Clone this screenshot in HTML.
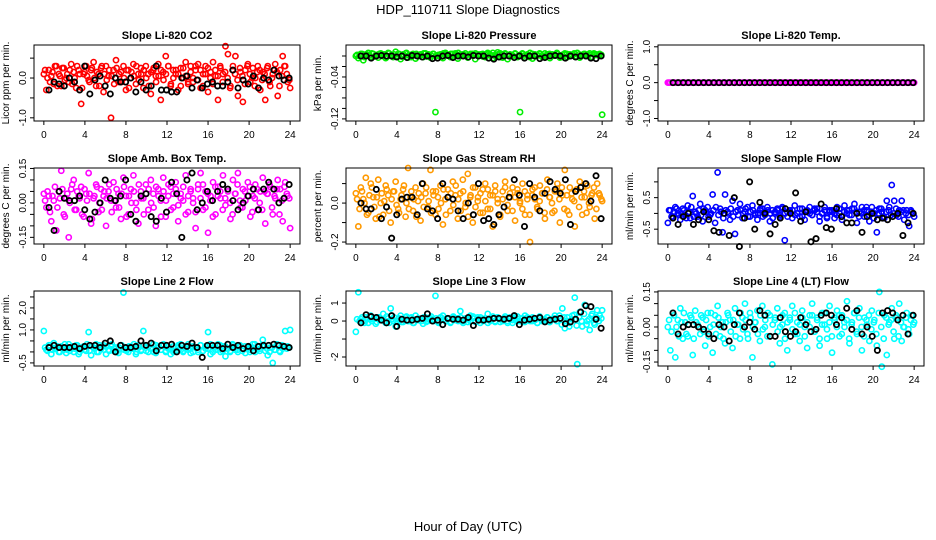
<!DOCTYPE html>
<html><head><meta charset="utf-8"><style>
html,body{margin:0;padding:0;background:#fff;}
svg{display:block;font-family:"Liberation Sans",Arial,sans-serif;}
</style></head><body>
<svg id="chart" width="936" height="540" viewBox="0 0 936 540">
<text x="468" y="14" text-anchor="middle" font-size="13">HDP_110711  Slope Diagnostics</text>
<text x="468" y="531" text-anchor="middle" font-size="13">Hour of Day (UTC)</text>
<g id="panels"></g>
</svg>
<script>
const xTicks=[0,4,8,12,16,20,24];
const titles=["Slope Li-820 CO2","Slope Li-820 Pressure","Slope Li-820 Temp.","Slope Amb. Box Temp.","Slope Gas Stream RH","Slope Sample Flow","Slope Line 2 Flow","Slope Line 3 Flow","Slope Line 4 (LT) Flow"];
const yTitles=["Licor ppm per min.","kPa per min.","degrees C per min.","degrees C per min.","percent per min.","ml/min per min.","ml/min per min.","ml/min per min.","ml/min per min."];
const yTickVals=[[-1,-0.5,0,0.5],[-0.12,-0.1,-0.08,-0.06,-0.04,-0.02,0],[-1,-0.5,0,0.5,1],[-0.15,-0.1,-0.05,0,0.05,0.1,0.15],[-0.2,-0.1,0,0.1],[-0.5,0,0.5,1],[-0.5,0,0.5,1,1.5,2,2.5],[-2,-1,0,1],[-0.15,-0.1,-0.05,0,0.05,0.1,0.15]];
const yTickLabels=[["-1.0","","0.0",""],["-0.12","","","","-0.04","",""],["-1.0","","0.0","","1.0"],["-0.15","","","0.00","","","0.15"],["-0.2","","0.0",""],["-0.5","","0.5",""],["-0.5","","","1.0","","2.0",""],["-2","","0","1"],["-0.15","","","0.00","","","0.15"]];
const yDomains=[[-1.08,0.83],[-0.124,0.021],[-1.07,1.05],[-0.179,0.152],[-0.21,0.18],[-0.97,1.44],[-0.64,2.77],[-2.5,1.67],[-0.167,0.154]];
const colors=["#ff0000","#00ee00","#ff00ff","#ff00ff","#ff9900","#0000ff","#00ffff","#00ffff","#00ffff"];

const co2=[0.1,-0.3,0.2,0.05,-0.15,0.3,0.1,-0.2,0.25,0.0,-0.1,0.35,0.15,-0.25,0.2,-0.65,0.1,0.3,-0.05,0.2,0.4,-0.2,0.1,0.25,-0.35,0.3,0.05,-1.0,0.2,0.45,-0.1,0.15,0.3,-0.3,0.2,0.0,0.35,-0.15,0.1,0.25,-0.25,0.3,0.1,-0.4,0.2,0.05,0.35,-0.55,0.15,0.55,0.3,-0.2,0.2,0.1,-0.3,0.25,0.0,0.4,-0.15,0.3,-0.1,0.2,0.35,-0.25,0.1,0.3,-0.35,0.15,0.4,0.05,-0.55,0.25,0.1,0.8,0.6,-0.2,0.3,0.55,-0.45,0.15,-0.6,0.2,0.35,-0.1,0.25,0.0,0.3,-0.3,0.15,-0.55,0.3,-0.2,0.1,0.35,-0.45,0.2,0.55,0.3,-0.1,-0.25];
const co2b=[0.2,0.0,-0.1,0.15,0.3,-0.2,0.05,0.25,-0.05,0.1,0.2,-0.15,0.0,0.3,0.1,-0.25,0.15,0.05,-0.1,0.25,0.0,0.15,-0.2,0.3,0.1,-0.05,0.2,0.05,-0.15,0.25,0.1,-0.1,0.0,0.2,-0.25,0.15,0.05,0.3,-0.05,0.1,0.2,0.0,-0.2,0.15,0.25,-0.1,0.05,0.2,-0.05,0.1,0.3,-0.15,0.0,0.2,0.1,-0.2,0.25,0.05,-0.1,0.15,0.0,0.3,-0.05,0.2,-0.2,0.1,0.25,0.0,-0.15,0.2,0.05,0.3,-0.1,0.15,0.0,-0.25,0.2,0.1,-0.05,0.25,0.05,-0.15,0.3,0.1,0.0,-0.2,0.15,0.2,-0.05,0.1,0.25,-0.1,0.0,0.2,0.15,-0.2,0.05,0.3,0.1,-0.05];
const co2Ref=[-0.3,-0.1,-0.15,-0.2,0.0,-0.1,-0.3,0.3,-0.4,-0.05,0.05,-0.2,-0.4,0.0,-0.1,-0.1,0.0,-0.35,-0.1,-0.3,-0.2,0.3,-0.3,-0.3,-0.35,-0.35,0.0,0.05,-0.25,-0.05,-0.25,-0.15,-0.1,-0.2,-0.2,-0.1,0.2,-0.25,-0.05,-0.15,0.05,-0.25,0.0,-0.05,0.2,0.05,-0.05,0.0];
const pres=[0.0,-0.004,0.004,-0.008,0.003,0.006,-0.002,0.004,0.001,-0.003,0.005,0.002,-0.004,0.006,0.001,-0.002,0.008,0.004,-0.006,0.003,0.005,-0.003,0.002,0.004,-0.005,0.001,0.003,-0.002,0.005,0.002,-0.003,0.004,-0.107,0.001,0.003,-0.004,0.006,0.002,-0.002,0.004,0.005,-0.005,0.003,0.001,0.005,-0.003,0.002,0.004,-0.006,0.003,0.001,0.004,-0.002,0.006,0.003,-0.004,0.002,0.007,0.005,-0.003,0.004,-0.006,0.002,0.001,0.005,-0.002,-0.107,0.004,-0.003,0.002,0.006,-0.005,0.003,0.001,0.004,-0.002,0.005,0.002,-0.004,0.003,0.001,0.004,-0.003,0.002,0.005,-0.002,0.003,0.001,0.004,0.006,-0.003,0.002,0.004,0.001,0.005,-0.002,0.003,0.002,0.004,-0.112];
const presb=[0.002,0.0,0.004,-0.002,0.003,0.001,0.005,-0.001,0.002,0.004,0.0,0.003,-0.002,0.005,0.001,0.003,0.0,0.004,-0.001,0.002,0.006,0.001,-0.002,0.003,0.004,0.0,0.002,0.005,-0.001,0.003,0.001,0.004,0.0,0.002,-0.002,0.005,0.003,0.001,0.004,-0.001,0.002,0.006,0.0,0.003,0.001,-0.002,0.004,0.002,0.005,0.0,0.003,-0.001,0.002,0.004,0.001,0.006,0.0,0.003,-0.002,0.002,0.005,0.001,0.003,0.0,0.004,-0.001,0.002,0.005,0.001,0.003,-0.002,0.004,0.0,0.002,0.005,0.001,-0.001,0.003,0.004,0.0,0.002,0.006,0.001,-0.002,0.003,0.004,0.0,0.002,0.005,-0.001,0.003,0.001,0.004,0.0,0.002,-0.002,0.005,0.003,0.001,0.002];
const presRef=[0.0,0.0,-0.004,0.0,0.001,0.0,0.0,-0.002,0.0,-0.003,0.001,0.0,-0.002,0.0,-0.005,-0.004,0.0,0.001,-0.003,0.0,0.0,-0.002,0.001,0.0,0.0,-0.004,-0.006,-0.002,0.0,0.0,-0.003,0.0,-0.004,0.0,0.0,-0.005,-0.003,0.0,0.001,0.0,-0.004,0.0,-0.002,0.0,0.0,-0.004,-0.005,0.0];
const temp=[0,0,0,0,0,0,0,0,0,0,0,0,0,0,0,0,0,0,0,0,0,0,0,0,0,0,0,0,0,0,0,0,0,0,0,0,0,0,0,0,0,0,0,0,0,0,0,0,0,0,0,0,0,0,0,0,0,0,0,0,0,0,0,0,0,0,0,0,0,0,0,0,0,0,0,0,0,0,0,0,0,0,0,0,0,0,0,0,0,0,0,0,0,0,0,0,0,0,0,0];
const tempb=[0,0,0,0,0,0,0,0,0,0,0,0,0,0,0,0,0,0,0,0,0,0,0,0,0,0,0,0,0,0,0,0,0,0,0,0,0,0,0,0,0,0,0,0,0,0,0,0,0,0];
const tempRef=[0,0,0,0,0,0,0,0,0,0,0,0,0,0,0,0,0,0,0,0,0,0,0,0,0,0,0,0,0,0,0,0,0,0,0,0,0,0,0,0,0,0,0,0,0,0,0,0];
const amb=[0.04,-0.02,0.03,-0.08,0.01,-0.12,0.05,0.14,-0.05,0.02,-0.15,0.06,0.1,-0.03,0.03,0.07,-0.06,0.04,0.13,-0.09,0.02,0.08,-0.04,0.06,0.03,-0.1,0.05,0.01,0.09,-0.02,0.04,-0.07,0.11,0.03,-0.05,0.06,0.12,0.0,-0.09,0.05,0.02,0.08,-0.03,0.1,0.04,-0.1,0.06,0.01,0.11,-0.06,0.03,0.07,-0.02,0.09,-0.08,0.04,0.01,0.12,-0.04,0.06,0.02,-0.11,0.08,0.13,-0.03,0.05,-0.13,0.03,0.09,-0.05,0.07,0.02,0.12,-0.01,0.05,-0.07,0.1,0.04,0.13,-0.02,0.06,0.01,0.09,-0.06,0.03,0.08,-0.03,0.05,0.11,-0.09,0.04,0.07,-0.05,0.02,0.1,0.06,-0.08,0.09,0.03,-0.11];
const ambb=[0.01,0.05,-0.04,0.03,0.07,-0.02,0.02,0.06,-0.06,0.04,0.0,0.08,-0.03,0.05,0.02,-0.05,0.06,0.01,0.04,-0.07,0.03,0.07,0.0,-0.03,0.05,0.02,0.08,-0.04,0.01,0.06,-0.02,0.04,0.07,-0.06,0.03,0.0,0.05,-0.03,0.08,0.02,-0.05,0.04,0.06,0.0,-0.02,0.07,0.03,-0.06,0.05,0.01,0.08,-0.03,0.04,0.06,-0.01,0.02,0.07,-0.05,0.03,0.05,0.0,-0.04,0.06,0.02,0.08,-0.02,0.04,0.01,-0.06,0.07,0.03,0.05,-0.03,0.02,0.06,0.0,-0.05,0.04,0.08,0.01,-0.02,0.05,0.03,0.07,-0.04,0.02,0.06,0.0,-0.03,0.05,0.04,0.08,-0.02,0.03,0.06,-0.05,0.01,0.07,0.04,0.02];
const ambRef=[-0.02,-0.12,0.05,0.02,0.01,0.01,0.03,-0.03,-0.07,-0.04,0.0,0.1,0.02,0.01,0.03,0.1,-0.05,-0.08,0.03,0.04,-0.06,-0.08,0.02,-0.04,0.09,0.04,-0.15,0.1,0.13,-0.03,0.0,0.05,0.01,0.05,0.08,0.06,0.01,-0.03,0.0,0.03,0.06,-0.03,0.06,0.09,0.06,0.0,0.02,0.08];
const rh=[0.05,-0.12,0.08,0.02,0.13,-0.05,0.1,0.03,-0.08,0.12,0.0,-0.06,0.09,0.04,-0.1,0.06,0.11,-0.03,0.02,0.07,-0.07,0.18,0.03,-0.04,0.08,0.01,-0.09,0.1,0.05,-0.02,0.17,0.06,-0.06,0.03,0.09,-0.11,0.02,0.07,-0.04,0.11,0.04,-0.08,0.05,0.12,-0.02,0.15,0.03,-0.1,0.08,0.01,-0.05,0.07,0.1,-0.03,0.04,-0.12,0.09,0.02,-0.07,0.06,0.11,-0.04,0.03,0.08,-0.09,0.05,0.01,0.1,-0.06,0.04,-0.2,0.07,0.02,-0.03,0.09,0.05,-0.08,0.12,0.03,-0.05,0.06,0.1,-0.1,0.04,0.17,-0.04,0.08,0.02,-0.12,0.07,0.11,-0.06,0.03,0.09,-0.02,0.05,-0.08,0.1,0.04,0.01];
const rhb=[0.02,-0.03,0.06,0.0,-0.06,0.04,0.08,-0.02,0.03,-0.07,0.05,0.01,0.07,-0.04,0.02,0.06,-0.01,-0.05,0.04,0.09,0.0,-0.03,0.06,0.02,-0.07,0.05,0.03,-0.02,0.08,0.01,-0.05,0.04,0.06,-0.03,0.0,0.07,-0.06,0.03,0.05,-0.01,0.09,0.02,-0.04,0.06,0.0,-0.07,0.04,0.08,-0.02,0.03,0.05,-0.05,0.01,0.07,-0.03,0.04,0.06,0.0,-0.06,0.02,0.08,-0.01,0.05,-0.04,0.03,0.07,0.0,-0.03,0.06,0.02,-0.06,0.04,0.08,-0.02,0.01,0.05,-0.05,0.07,0.03,0.0,-0.04,0.06,0.02,0.08,-0.03,0.04,-0.06,0.05,0.01,0.07,-0.02,0.03,0.06,-0.05,0.0,0.04,0.08,-0.03,0.05,0.02];
const rhRef=[0.0,-0.03,-0.03,0.07,-0.08,-0.02,-0.18,-0.06,0.02,0.03,0.03,-0.06,0.1,-0.03,-0.04,-0.08,0.1,0.03,0.02,-0.04,-0.08,0.0,-0.06,0.1,-0.09,-0.08,-0.11,-0.06,-0.02,0.03,0.12,0.04,-0.12,0.1,0.03,-0.04,0.05,0.11,0.07,0.05,0.12,-0.11,0.06,0.08,0.1,0.01,0.14,-0.08];
const flow=[-0.3,0.1,-0.1,0.2,0.0,-0.2,0.15,-0.05,0.25,-0.15,0.55,0.05,-0.1,0.3,-0.25,0.1,0.2,-0.05,0.6,-0.3,1.3,0.15,-0.6,0.6,0.05,-0.2,0.4,-0.65,0.1,0.3,-0.15,0.05,0.2,-0.1,0.25,0.0,-0.2,0.1,0.15,-0.05,0.2,-0.25,0.1,0.0,0.15,-0.1,0.2,-0.85,0.05,0.1,-0.15,0.25,0.0,-0.1,0.15,-0.2,0.05,0.2,-0.05,0.1,0.15,-0.25,0.0,0.2,-0.1,0.1,0.05,-0.15,0.2,0.0,-0.2,0.25,0.1,-0.05,0.15,0.3,-0.3,0.05,0.2,-0.1,0.1,-0.25,0.2,0.0,-0.6,0.15,0.05,-0.15,0.4,0.2,0.9,0.4,-0.05,0.1,0.4,-0.2,0.1,-0.4,0.05,-0.1];
const flowb=[0.1,-0.1,0.05,0.15,-0.05,0.0,0.1,-0.15,0.05,0.2,-0.1,0.0,0.1,-0.05,0.15,0.05,-0.1,0.0,0.1,0.2,-0.05,0.05,-0.15,0.1,0.0,0.15,-0.1,0.05,-0.05,0.1,0.0,0.15,-0.1,0.05,0.1,-0.05,0.0,0.15,-0.1,0.05,0.1,0.0,-0.15,0.05,0.1,-0.05,0.15,0.0,-0.1,0.05,0.1,-0.05,0.0,0.15,-0.1,0.05,0.1,0.0,-0.05,0.15,0.05,-0.1,0.0,0.1,-0.15,0.05,0.1,0.0,-0.05,0.15,-0.1,0.05,0.0,0.1,-0.05,0.15,0.05,-0.1,0.0,0.1,0.2,-0.05,0.05,-0.15,0.1,0.0,0.15,-0.1,0.05,0.1,-0.05,0.0,0.15,-0.1,0.05,0.1,0.0,-0.05,0.1,0.0];
const flowRef=[-0.15,-0.35,-0.1,0.0,-0.35,-0.2,0.05,-0.2,-0.55,-0.6,0.0,-0.7,0.5,-1.05,-0.15,1.0,-0.5,0.35,0.0,-0.65,-0.35,-0.15,0.15,0.0,0.65,-0.25,0.05,-0.9,-0.8,0.3,-0.45,-0.5,0.15,-0.1,-0.3,-0.3,0.0,-0.6,-0.1,0.0,-0.2,-0.15,-0.2,-0.1,0.0,-0.7,-0.3,0.0];
const line2=[0.95,0.1,0.3,-0.1,0.4,0.15,0.0,0.25,0.1,-0.05,0.35,0.2,0.0,0.3,-0.1,0.15,0.25,0.05,0.9,-0.15,0.2,0.35,0.0,0.15,0.3,-0.1,0.1,0.25,0.05,0.2,-0.05,0.3,2.7,0.1,0.0,0.25,0.15,-0.1,0.3,0.05,0.95,0.2,0.0,0.15,0.35,-0.05,0.2,0.1,0.3,0.0,0.15,-0.1,0.25,0.05,0.2,0.35,0.0,0.15,0.1,-0.05,0.25,0.2,0.0,0.3,0.05,0.15,0.9,-0.1,0.2,0.1,0.35,0.0,0.25,-0.2,0.15,0.05,0.3,0.1,0.0,0.25,0.15,-0.05,0.2,0.1,0.35,0.0,0.25,0.15,0.55,0.05,-0.15,0.2,-0.5,0.1,0.3,0.0,0.15,0.95,0.25,1.0];
const line2b=[0.2,0.05,0.3,0.1,0.15,0.25,0.0,0.2,0.35,0.1,0.05,0.25,0.15,0.3,0.0,0.2,0.1,0.35,0.05,0.25,0.15,0.0,0.3,0.2,0.1,0.25,0.05,0.35,0.15,0.0,0.2,0.3,0.1,0.05,0.25,0.15,0.35,0.0,0.2,0.1,0.3,0.05,0.25,0.15,0.0,0.3,0.2,0.1,0.35,0.05,0.25,0.15,0.0,0.2,0.3,0.1,0.05,0.25,0.35,0.15,0.0,0.2,0.1,0.3,0.05,0.25,0.15,0.35,0.0,0.2,0.1,0.3,0.05,0.25,0.15,0.0,0.35,0.2,0.1,0.3,0.05,0.25,0.15,0.0,0.2,0.35,0.1,0.05,0.3,0.25,0.15,0.0,0.2,0.1,0.35,0.05,0.3,0.25,0.15,0.2];
const line2Ref=[0.2,0.3,0.2,0.2,0.2,0.25,0.15,0.25,0.3,0.3,0.2,0.4,0.5,0.0,0.3,0.2,0.2,0.25,0.5,0.3,0.4,0.05,0.3,0.3,0.35,0.0,0.3,0.25,0.4,0.2,-0.25,0.3,0.3,0.3,0.15,0.35,0.2,0.3,0.15,0.25,0.05,0.25,0.3,0.3,0.35,0.3,0.25,0.2];
const line3=[-0.6,1.6,0.1,0.0,0.2,-0.1,0.3,0.1,-0.15,0.2,0.05,0.4,-0.1,0.15,0.7,0.0,-0.3,0.1,0.3,-0.05,0.2,0.0,0.15,-0.1,0.3,0.05,0.1,-0.15,0.2,0.0,0.15,0.1,1.4,-0.05,0.2,0.3,0.0,0.1,-0.1,0.2,0.05,0.15,0.55,0.0,0.1,-0.05,0.3,0.15,0.0,0.2,-0.1,0.1,0.05,0.4,0.0,0.15,-0.05,0.2,0.1,0.0,0.25,-0.1,0.1,0.05,0.2,0.0,0.15,-0.05,0.3,0.1,0.0,0.2,0.05,-0.1,0.15,0.0,0.1,0.2,-0.05,0.1,0.3,0.0,0.15,0.7,-0.4,0.2,-0.1,0.3,1.3,-2.4,0.5,-0.3,0.9,0.0,-0.5,0.4,-0.2,0.6,0.3,0.6];
const line3b=[0.1,0.0,0.2,-0.1,0.1,0.25,0.0,0.15,-0.05,0.2,0.1,0.0,0.25,-0.1,0.1,0.2,0.0,0.15,-0.05,0.1,0.25,0.0,0.2,-0.1,0.1,0.15,0.0,0.2,-0.05,0.1,0.25,0.0,0.15,-0.1,0.2,0.1,0.0,0.15,-0.05,0.25,0.1,0.0,0.2,-0.1,0.15,0.1,0.0,0.25,-0.05,0.1,0.2,0.0,0.15,-0.1,0.1,0.25,0.0,0.2,-0.05,0.1,0.15,0.0,0.2,-0.1,0.1,0.25,0.0,0.15,-0.05,0.2,0.1,0.0,0.15,-0.1,0.25,0.1,0.0,0.2,-0.05,0.1,0.15,0.0,0.3,-0.2,0.2,0.0,-0.3,0.1,0.35,-0.25,0.2,0.0,0.4,-0.2,0.1,0.3,-0.1,0.2,0.0,0.15];
const line3Ref=[-0.1,0.35,0.25,0.2,0.05,-0.1,0.3,-0.3,0.1,0.05,0.05,0.1,0.15,0.4,0.0,0.05,-0.2,0.15,0.1,0.1,0.05,0.2,-0.25,0.05,0.05,0.1,0.15,0.15,0.1,0.15,0.3,-0.2,0.05,0.1,0.15,0.2,-0.05,0.05,0.1,0.15,-0.15,-0.05,0.1,0.5,0.85,0.8,0.1,-0.4];
const line4=[0.0,-0.1,0.06,-0.13,0.03,0.08,-0.05,0.02,-0.04,0.05,-0.12,0.07,0.01,-0.03,0.04,-0.08,0.06,0.0,-0.11,0.05,0.09,-0.04,0.02,-0.07,0.06,0.03,-0.09,0.08,0.01,-0.05,0.04,0.1,-0.03,0.06,-0.13,0.02,0.07,-0.06,0.09,0.0,-0.04,0.05,-0.16,0.03,0.08,-0.07,0.01,0.06,-0.1,0.04,0.09,-0.03,0.02,-0.06,0.07,0.0,-0.09,0.05,0.1,-0.02,0.04,-0.08,0.06,0.01,-0.05,0.09,-0.11,0.03,0.07,-0.04,0.05,0.0,0.11,-0.07,0.02,0.06,-0.03,0.08,-0.1,0.04,0.01,-0.06,0.07,0.03,-0.08,0.15,-0.17,0.05,-0.12,0.02,0.08,-0.05,0.04,0.1,-0.06,0.0,0.06,-0.03,0.05,0.02];
const line4b=[0.03,-0.02,0.05,0.0,-0.04,0.02,0.06,-0.03,0.01,0.04,-0.05,0.02,0.0,0.05,-0.02,0.03,-0.04,0.06,0.01,-0.03,0.04,0.0,-0.05,0.02,0.05,-0.02,0.03,-0.04,0.01,0.06,-0.01,0.03,-0.05,0.04,0.0,0.02,-0.03,0.05,-0.01,0.03,0.06,-0.04,0.01,0.04,-0.02,0.0,0.05,-0.05,0.02,0.03,-0.01,0.06,-0.03,0.01,0.04,-0.04,0.02,0.0,0.05,-0.02,0.03,-0.05,0.01,0.06,-0.01,0.02,-0.04,0.04,0.0,0.05,-0.03,0.02,0.03,-0.05,0.01,0.06,-0.02,0.04,0.0,-0.04,0.03,0.05,-0.01,0.02,-0.03,0.06,0.0,-0.05,0.04,0.01,0.03,-0.02,0.05,-0.04,0.02,0.0,0.04,-0.01,0.03,0.01];
const line4Ref=[0.06,-0.03,0.0,0.01,0.01,0.0,-0.01,-0.03,-0.05,0.01,0.0,-0.06,0.01,0.06,0.0,0.02,-0.01,0.07,0.05,-0.04,-0.04,0.04,-0.02,-0.04,-0.02,0.04,0.01,-0.02,-0.01,0.05,0.06,0.05,0.01,0.04,0.08,-0.01,0.07,-0.03,0.0,-0.04,-0.1,0.06,0.07,0.06,0.03,0.05,-0.03,0.05];
const seriesMain=[co2,pres,temp,amb,rh,flow,line2,line3,line4];
const seriesMain2=[co2b,presb,tempb,ambb,rhb,flowb,line2b,line3b,line4b];
const seriesRef=[co2Ref,presRef,tempRef,ambRef,rhRef,flowRef,line2Ref,line3Ref,line4Ref];

const NS="http://www.w3.org/2000/svg";
const root=document.getElementById('panels');
const lefts=[34,346,658], rows=[[45,121],[168,244],[291,366]], W=266;
const XMIN=-0.96, XMAX=24.96;
function mk(tag,attrs,parent){const e=document.createElementNS(NS,tag);for(const k in attrs)e.setAttribute(k,attrs[k]);parent.appendChild(e);return e;}
for(let p=0;p<9;p++){
  const L=lefts[p%3], T=rows[Math.floor(p/3)][0], B=rows[Math.floor(p/3)][1];
  const [y0,y1]=yDomains[p];
  const sx=v=>L+(v-XMIN)/(XMAX-XMIN)*W;
  const sy=v=>B-(v-y0)/(y1-y0)*(B-T);
  const g=mk('g',{},root);
  
  
  const t=mk('text',{x:L+W/2,y:T-6,'text-anchor':'middle','font-size':'11','font-weight':'bold'},g);t.textContent=titles[p];
  
  
  const yt=mk('text',{x:0,y:0,'text-anchor':'middle','font-size':'10',transform:`translate(${L-25},${(T+B)/2}) rotate(-90)`},g);yt.textContent=yTitles[p];
  
  
  const pts=mk('g',{fill:'none'},g);
  
  
  const main2=seriesMain2[p];
  main2.forEach((v,i)=>{
    const c=mk('circle',{cx:sx(0.12+i*23.8/(main2.length-1)),cy:sy(v),r:2.6,stroke:colors[p],'stroke-width':1.6},pts);
    
    
  });
  const main=seriesMain[p];
  main.forEach((v,i)=>{
    const c=mk('circle',{cx:sx(i*24/(main.length-1)),cy:sy(v),r:2.6,stroke:colors[p],'stroke-width':1.6},pts);
    
    
  });
  const ref=seriesRef[p];
  ref.forEach((v,i)=>{
    const c=mk('circle',{cx:sx(0.5+i*23.4/(ref.length-1)),cy:sy(v),r:2.6,stroke:'#000','stroke-width':1.8},pts);
    
    
  });
  const box=mk('rect',{x:L,y:T,width:W,height:B-T,fill:'none',stroke:'#000','stroke-width':1},g);
  
  
  xTicks.forEach(v=>{
    mk('line',{x1:sx(v),x2:sx(v),y1:B,y2:B+4,stroke:'#000'},g);
    const tx=mk('text',{x:sx(v),y:B+17,'text-anchor':'middle','font-size':'10'},g);tx.textContent=v;
    
    
  });
  yTickVals[p].forEach((v,i)=>{
    mk('line',{x1:L,x2:L-4,y1:sy(v),y2:sy(v),stroke:'#000'},g);
    const lab=yTickLabels[p][i];
    if(lab){
      const ty=mk('text',{x:0,y:0,'text-anchor':'middle','font-size':'10',transform:`translate(${L-8},${sy(v)}) rotate(-90)`},g);ty.textContent=lab;
      
      
    }
  });
}
</script>
</body></html>
